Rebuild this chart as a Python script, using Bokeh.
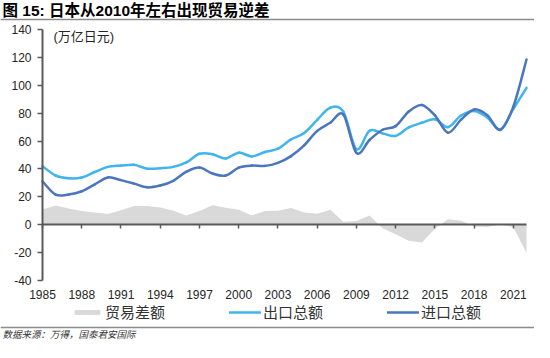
from bokeh.plotting import figure
from bokeh.models import (FixedTicker, Label, BoxAnnotation, Legend,
                          LegendItem, Range1d, PrintfTickFormatter, LinearAxis)
from bokeh.embed import file_html
from bokeh.resources import INLINE

years = list(range(1985, 2023))
exports = [42.0, 35.3, 33.3, 33.9, 37.8, 41.5, 42.4, 43.0, 40.2, 40.5,
           41.5, 44.7, 50.9, 50.6, 47.5, 51.7, 49.0, 52.1, 54.5, 61.2,
           65.7, 75.2, 83.9, 81.0, 54.2, 67.4, 65.5, 63.7, 69.8, 73.1,
           75.6, 70.0, 78.3, 81.5, 76.9, 68.4, 83.1, 98.2]
imports = [31.1, 21.6, 21.7, 24.0, 29.0, 33.9, 32.0, 29.5, 26.8, 28.1,
           31.5, 38.0, 41.0, 36.7, 35.3, 40.9, 42.4, 42.2, 44.4, 49.2,
           56.9, 67.3, 73.1, 79.0, 51.5, 60.8, 68.1, 70.7, 81.2, 85.9,
           78.4, 66.0, 75.4, 82.7, 78.6, 68.0, 84.9, 118.5]
balance = [10.9, 13.7, 11.6, 9.9, 8.8, 7.6, 10.4, 13.5, 13.4, 12.4,
           10.0, 6.7, 9.9, 13.9, 12.2, 10.8, 6.6, 9.9, 10.1, 12.0,
           8.8, 7.9, 10.8, 2.1, 2.7, 6.6, -2.6, -6.9, -11.5, -12.8,
           -2.8, 4.0, 2.9, -1.2, -1.7, 0.4, -1.8, -20.3]
x_ticks = [1985, 1988, 1991, 1994, 1997, 2000, 2003, 2006, 2009, 2012,
           2015, 2018, 2021]
y_ticks = [-40, -20, 0, 20, 40, 60, 80, 100, 120, 140]

title_text = "图 15: 日本从2010年左右出现贸易逆差"
unit_text = "(万亿日元)"
source_text = "数据来源：万得，国泰君安国际"
names = ["贸易差额", "出口总额", "进口总额"]

C_AREA = "#D9D9D9"
C_EXP = "#41B4EC"
C_IMP = "#4A76BE"
AXIS = "#595959"
RULE = "#8C8C8C"
TXT = "#262626"
LATIN = "Liberation Sans"
CJK = "Noto Sans CJK SC"
MIX = "Liberation Sans, Noto Sans CJK SC"

# canvas and pixel placement of the plotting region (frame = whole canvas)
W, H = 534, 342
PX_L, PX_R = 42, 526      # x pixels of first / last year
PX_T, PX_B = 29, 280      # y pixels (from top) of top / bottom y tick

ymin, ymax = y_ticks[0], y_ticks[-1]
xmin, xmax = years[0], years[-1]
ppx = (PX_R - PX_L) / (xmax - xmin)
ppy = (PX_B - PX_T) / (ymax - ymin)
x_range = Range1d(xmin - PX_L / ppx, xmax + (W - PX_R) / ppx)
y_range = Range1d(ymin - (H - PX_B) / ppy, ymax + PX_T / ppy)


def smooth(xs, ys, k=1.0 / 6):
    n = len(xs)
    d = dict(x0=[], y0=[], x1=[], y1=[], cx0=[], cy0=[], cx1=[], cy1=[])
    for i in range(n - 1):
        a = max(i - 1, 0)
        b = min(i + 2, n - 1)
        d["x0"].append(xs[i]); d["y0"].append(ys[i])
        d["x1"].append(xs[i + 1]); d["y1"].append(ys[i + 1])
        d["cx0"].append(xs[i] + (xs[i + 1] - xs[a]) * k)
        d["cy0"].append(ys[i] + (ys[i + 1] - ys[a]) * k)
        d["cx1"].append(xs[i + 1] - (xs[b] - xs[i]) * k)
        d["cy1"].append(ys[i + 1] - (ys[b] - ys[i]) * k)
    return d


p = figure(width=W, height=H, x_range=x_range, y_range=y_range,
           x_axis_location=None, y_axis_location=None, min_border=0,
           output_backend="svg", toolbar_location=None)
p.outline_line_color = None
p.grid.visible = False
p.background_fill_color = "white"
p.border_fill_color = "white"

# y axis drawn at the first year
yax = LinearAxis(fixed_location=xmin, bounds=(ymin, ymax),
                 ticker=FixedTicker(ticks=y_ticks),
                 formatter=PrintfTickFormatter(format="%d"))
yax.axis_line_color = AXIS
yax.axis_line_width = 2
yax.major_tick_line_color = AXIS
yax.major_tick_line_width = 1.5
yax.major_tick_out = 5
yax.major_tick_in = 0
yax.minor_tick_line_color = None
yax.major_label_text_font = LATIN
yax.major_label_text_font_size = "12px"
yax.major_label_text_color = TXT
yax.major_label_standoff = 6
p.add_layout(yax, "left")

# zero line with downward ticks
xzero = LinearAxis(fixed_location=0, bounds=(xmin, xmax),
                   ticker=FixedTicker(ticks=x_ticks),
                   major_label_overrides={t: "" for t in x_ticks})
xzero.axis_line_color = AXIS
xzero.axis_line_width = 2
xzero.major_tick_line_color = AXIS
xzero.major_tick_line_width = 1.5
xzero.major_tick_out = 4
xzero.major_tick_in = 0
xzero.minor_tick_line_color = None
xzero.major_label_text_font_size = "1px"
xzero.major_label_text_alpha = 0
p.add_layout(xzero, "below")

# year labels below the plot
xlab = LinearAxis(fixed_location=ymin, ticker=FixedTicker(ticks=x_ticks),
                  formatter=PrintfTickFormatter(format="%d"))
xlab.axis_line_color = None
xlab.major_tick_line_color = None
xlab.major_tick_out = 0
xlab.major_tick_in = 0
xlab.minor_tick_line_color = None
xlab.major_label_text_font = LATIN
xlab.major_label_text_font_size = "12px"
xlab.major_label_text_color = TXT
xlab.major_label_standoff = 9
p.add_layout(xlab, "below")

area = p.varea(x=years, y1=0, y2=balance, fill_color=C_AREA, fill_alpha=1,
               level="underlay")

exp_r = p.bezier(line_color=C_EXP, line_width=2.5, line_cap="round",
                 source=smooth(years, exports), x0="x0", y0="y0", x1="x1",
                 y1="y1", cx0="cx0", cy0="cy0", cx1="cx1", cy1="cy1")
imp_r = p.bezier(line_color=C_IMP, line_width=2.5, line_cap="round",
                 source=smooth(years, imports), x0="x0", y0="y0", x1="x1",
                 y1="y1", cx0="cx0", cy0="cy0", cx1="cx1", cy1="cy1")

legend = Legend(items=[LegendItem(label=names[0], renderers=[area]),
                       LegendItem(label=names[1], renderers=[exp_r]),
                       LegendItem(label=names[2], renderers=[imp_r])],
                orientation="horizontal", location=(71, 20),
                glyph_width=32, glyph_height=6, label_height=6,
                label_standoff=2, spacing=64, padding=0, margin=0,
                border_line_color=None, background_fill_alpha=0,
                label_text_font=CJK, label_text_font_size="15px",
                label_text_color="#333333")
p.add_layout(legend)

# texts and rules (screen units: x from left, y from bottom)
p.add_layout(Label(x=2, y=H - 9.5, x_units="screen", y_units="screen",
                   text=title_text, text_font=MIX, text_font_size="15.5px",
                   text_font_style="bold", text_baseline="middle",
                   text_align="left", text_color="black"))
p.add_layout(Label(x=53, y=H - 36, x_units="screen", y_units="screen",
                   text=unit_text, text_font=MIX, text_font_size="13px",
                   text_baseline="middle", text_align="left",
                   text_color=TXT))
p.add_layout(Label(x=2, y=H - 333.5, x_units="screen", y_units="screen",
                   text=source_text, text_font=CJK, text_font_size="9.5px",
                   text_font_style="italic", text_baseline="middle",
                   text_align="left", text_color="#333333"))
for yy in (19, 327):
    p.add_layout(BoxAnnotation(left=0, right=W, top=H - yy + 0.7,
                               bottom=H - yy - 0.7, left_units="screen",
                               right_units="screen", top_units="screen",
                               bottom_units="screen", fill_color=RULE,
                               fill_alpha=1, line_color=None))

open("out.html", "w").write(file_html(p, INLINE))
